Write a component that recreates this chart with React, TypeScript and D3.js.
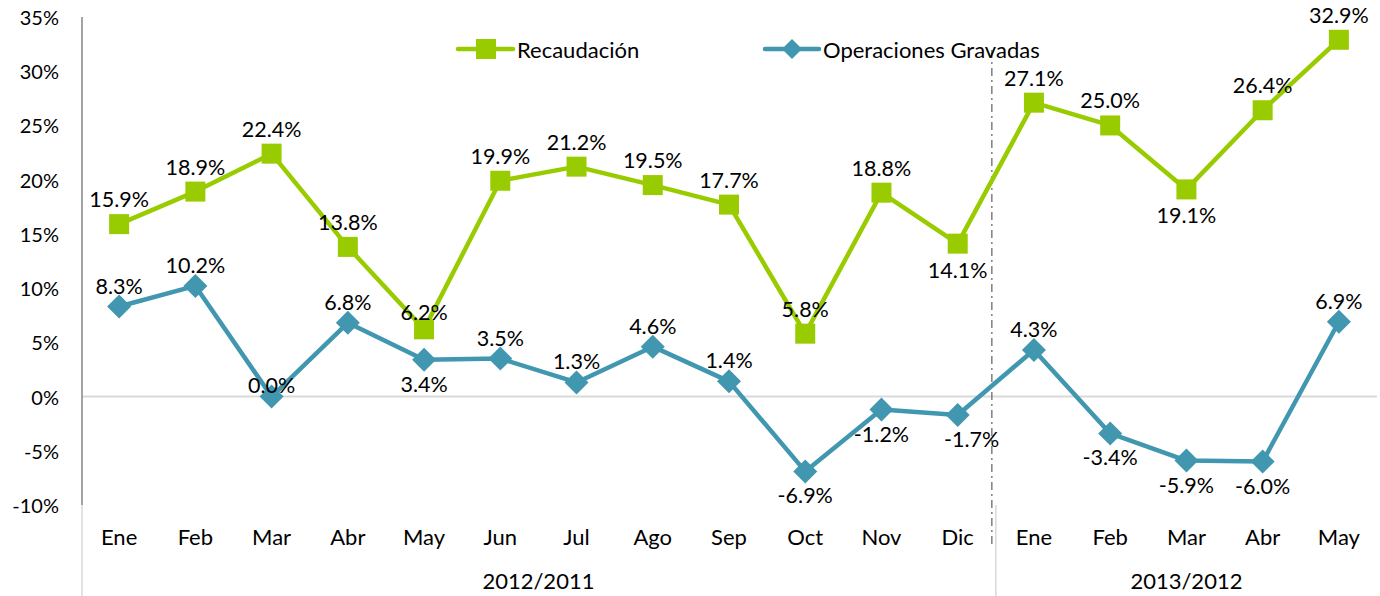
import React from "react";
import * as d3 from "d3";

const months = ["Ene","Feb","Mar","Abr","May","Jun","Jul","Ago","Sep","Oct","Nov","Dic","Ene","Feb","Mar","Abr","May"];
const groups = [
  { label: "2012/2011", start: 0, end: 12 },
  { label: "2013/2012", start: 12, end: 17 },
];
const recaudacion = [15.9,18.9,22.4,13.8,6.2,19.9,21.2,19.5,17.7,5.8,18.8,14.1,27.1,25.0,19.1,26.4,32.9];
const operaciones = [8.3,10.2,0.0,6.8,3.4,3.5,1.3,4.6,1.4,-6.9,-1.2,-1.7,4.3,-3.4,-5.9,-6.0,6.9];
// label placement: a = above, b = below, n = near/overlapping above
const recLabelPos = ["a","a","a","a","n","a","a","a","a","a","a","b","a","a","b","a","a"];
const opLabelPos = ["a","a","n","a","b","a","a","a","a","b","b","b","a","b","b","b","a"];
const yTicks = [-10,-5,0,5,10,15,20,25,30,35];

const W = 1380, H = 596;
const GREEN = "#99CC00";
const TEAL = "#4197AF";
const FONT = "Lato, 'Open Sans', sans-serif";
const FS_TICK = 20;
const FS_LABEL = 21.5;
const FS_CAT = 22;

export default function App() {
  const x = d3.scaleBand<number>().domain(d3.range(months.length)).range([81, 1377]);
  const y = d3.scaleLinear().domain([-10, 35]).range([505, 17]);
  const cx = (i: number) => (x(i) as number) + x.bandwidth() / 2;
  const line = d3.line<number>().x((_, i) => cx(i)).y((d) => y(d));
  const fmt = (v: number) => v.toFixed(1) + "%";
  const sepX = x(12) as number;

  const labelY = (v: number, pos: string, series: "r" | "o") => {
    const yy = y(v);
    if (pos === "b") return yy + (series === "r" ? 26 : 24);
    if (pos === "n") return yy - (series === "r" ? 17 : 12);
    return yy - (series === "r" ? 25 : 21);
  };

  return (
    <div style={{ position: "fixed", left: 0, top: 0 }}>
      <svg width={W} height={H} style={{ display: "block", background: "#fff" }} fontFamily={FONT}>
        {/* zero line */}
        <line x1={82} x2={1377} y1={y(0)} y2={y(0)} stroke="#d9d9d9" strokeWidth={2} />
        {/* y axis */}
        <line x1={82} x2={82} y1={y(35)} y2={y(-10)} stroke="#868686" strokeWidth={1.5} />
        <line x1={82} x2={82} y1={y(-10)} y2={H} stroke="#d9d9d9" strokeWidth={1.5} />
        <line x1={sepX} x2={sepX} y1={y(-10)} y2={H} stroke="#d9d9d9" strokeWidth={1.5} />
        {yTicks.map((t) => (
          <text key={t} x={59} y={y(t)} textAnchor="end" dominantBaseline="central" fontSize={FS_TICK} fill="#000">
            {t + "%"}
          </text>
        ))}
        {/* dash-dot separator */}
        <line x1={sepX - 4} x2={sepX - 4} y1={50} y2={545} stroke="#7f7f7f" strokeWidth={1.5} strokeDasharray="8,4,2,4" />
        {/* month labels */}
        {months.map((m, i) => (
          <text key={i} x={cx(i)} y={536} textAnchor="middle" dominantBaseline="central" fontSize={FS_CAT} fill="#000">
            {m}
          </text>
        ))}
        {groups.map((g) => (
          <text key={g.label} x={((x(g.start) as number) + (g.end < months.length ? (x(g.end) as number) : 1377)) / 2}
            y={580} textAnchor="middle" dominantBaseline="central" fontSize={FS_CAT} fill="#000">
            {g.label}
          </text>
        ))}
        {/* lines */}
        <path d={line(recaudacion) || ""} fill="none" stroke={GREEN} strokeWidth={4.5} strokeLinejoin="round" />
        <path d={line(operaciones) || ""} fill="none" stroke={TEAL} strokeWidth={4.5} strokeLinejoin="round" />
        {recaudacion.map((v, i) => (
          <rect key={"r" + i} x={cx(i) - 10} y={y(v) - 10} width={20} height={20} fill={GREEN} />
        ))}
        {operaciones.map((v, i) => (
          <path key={"o" + i} d={`M${cx(i)},${y(v) - 12}L${cx(i) + 12},${y(v)}L${cx(i)},${y(v) + 12}L${cx(i) - 12},${y(v)}Z`} fill={TEAL} />
        ))}
        {recaudacion.map((v, i) => (
          <text key={"rl" + i} x={cx(i)} y={labelY(v, recLabelPos[i], "r")} textAnchor="middle" dominantBaseline="central" fontSize={FS_LABEL} fill="#000">
            {fmt(v)}
          </text>
        ))}
        {operaciones.map((v, i) => (
          <text key={"ol" + i} x={cx(i) + (opLabelPos[i] === "b" && i === 11 ? 14 : 0)} y={labelY(v, opLabelPos[i], "o")} textAnchor="middle" dominantBaseline="central" fontSize={FS_LABEL} fill="#000">
            {fmt(v)}
          </text>
        ))}
        {/* legend */}
        <g>
          <line x1={458} x2={513} y1={49} y2={49} stroke={GREEN} strokeWidth={4.5} strokeLinecap="round" />
          <rect x={476} y={39} width={20} height={20} fill={GREEN} />
          <text x={517} y={49} dominantBaseline="central" fontSize={FS_CAT} fill="#000">Recaudación</text>
          <line x1={765} x2={819} y1={49} y2={49} stroke={TEAL} strokeWidth={4.5} strokeLinecap="round" />
          <path d="M792,39L802,49L792,59L782,49Z" fill={TEAL} />
          <text x={823} y={49} dominantBaseline="central" fontSize={FS_CAT} fill="#000">Operaciones Gravadas</text>
        </g>
      </svg>
    </div>
  );
}
